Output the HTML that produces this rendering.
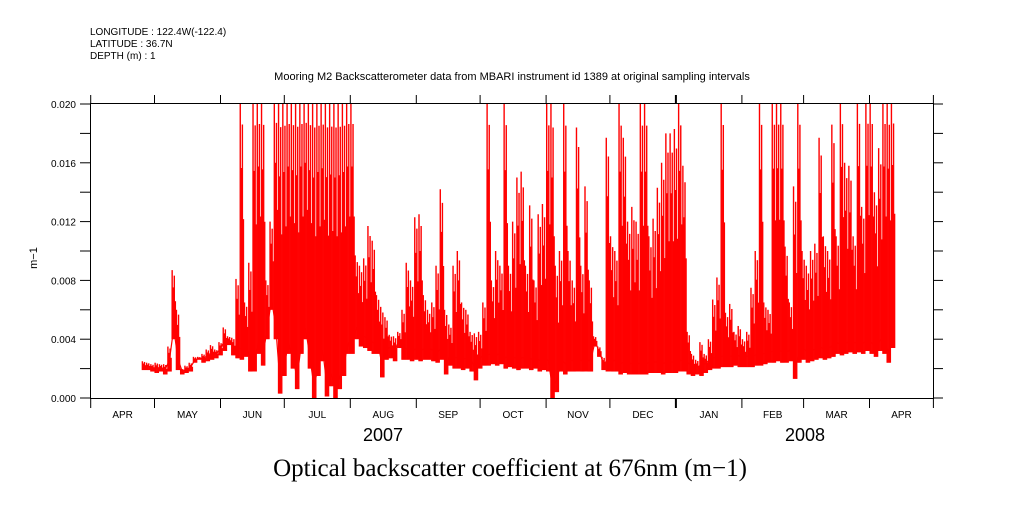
<!DOCTYPE html>
<html><head><meta charset="utf-8"><style>
body{margin:0;background:#fff;width:1009px;height:504px;overflow:hidden}
svg text{font-family:"Liberation Sans",sans-serif;fill:#000}
</style></head><body>
<svg id="chart" width="1009" height="504" xmlns="http://www.w3.org/2000/svg">
<g font-size="10">
<text x="90" y="35">LONGITUDE : 122.4W(-122.4)</text>
<text x="90" y="47">LATITUDE : 36.7N</text>
<text x="90" y="59">DEPTH (m) : 1</text>
</g>
<text x="512" y="80" font-size="11" text-anchor="middle">Mooring M2 Backscatterometer data from MBARI instrument id 1389 at original sampling intervals</text>
<text transform="translate(37,258) rotate(-90)" font-size="11" text-anchor="middle">m−1</text>
<text x="383" y="441" font-size="18" text-anchor="middle">2007</text>
<text x="805" y="441" font-size="18" text-anchor="middle">2008</text>
<text x="510" y="476" font-size="25" text-anchor="middle" style="font-family:'Liberation Serif',serif">Optical backscatter coefficient at 676nm (m−1)</text>
<g id="series"></g>
<g id="axes"></g>
</svg>
<script>
const startDay = 24; // days since 2007-04-01 of first bin
const binDays = 2;
const hiVals = [2.5,2.4,2.3,2.4,2.3,2.3,3.5,8.7,6.0,2.0,2.2,2.4,2.8,2.8,3.0,3.3,3.6,3.3,3.8,4.8,4.2,4.1,8.1,20,6.5,9.2,20,20,20,8,12,20,
20,20,20,20,20,20,20,20,20,20,20,20,20,20,20,20,20,
20,9.7,9.0,9.5,11.7,10.7,7.0,6.2,5.5,4.3,4.2,4.5,6,9.2,8,12.3,12.5,7,6,6.5,9,14.2,6,5,9,10,6.5,6,4.5,4.4,4.5,6.5,
20,8,10,9,20,9,12,15,15.4,9,13.1,8,12.5,13.2,20,20,9,10,20,10,8,18.4,9,14.4,8,4.2,3.5,2.8,17.7,11,10,20,17.7,12,13,12,20,20,11,12.2,14.3,16,18,18,18.3,20,15.8,
4.5,3.0,2.6,3.8,3.0,4.0,6.7,8.2,20,5.8,6.4,4.5,4.9,4.0,4.5,7.5,10,20,6.5,6,20,20,20,10.3,6.5,14.4,20,10,9,10,10.5,17.7,11,10,18.6,11,20,16,15.8,11,20,13,20,20,14,17,20,20,20];
const loVals = [1.9,1.9,1.8,1.7,1.8,1.6,1.8,4.0,1.9,1.6,1.7,1.8,2.4,2.6,2.4,2.5,2.6,2.7,2.9,3.2,3.6,2.9,2.7,2.6,2.8,1.8,1.8,3.0,2.2,4,6,4,
0.3,1.5,3,2,0.6,3,4,2,0,1.5,2.5,0.1,0.8,0,0.6,1.5,3,
3,4,3.5,3.4,3.2,3,3,1.4,2.6,2.7,2.5,3.4,2.6,2.6,2.5,2.6,2.5,2.6,2.6,2.5,2.4,2.6,1.6,2.2,2.0,2.0,1.9,2.0,1.8,1.2,2.0,2.2,
2.2,2.3,2.2,2.3,2.0,2.1,2.0,1.9,2.0,2.0,1.9,2.0,1.8,1.9,1.8,0,0.4,1.8,1.6,1.8,1.8,1.8,1.8,1.8,1.8,3.5,2.8,1.9,1.8,1.8,1.8,1.6,1.7,1.6,1.6,1.6,1.6,1.6,1.7,1.7,1.7,1.6,1.7,1.7,1.7,1.8,1.8,
1.6,1.5,1.6,1.5,1.7,1.9,2.0,2.0,2.1,2.1,2.1,2.2,2.1,2.1,2.1,2.1,2.2,2.2,2.3,2.4,2.4,2.5,2.4,2.4,2.5,1.3,2.4,2.6,2.4,2.5,2.6,2.7,2.6,2.7,2.8,3.0,2.9,3.0,3.1,3.0,3.1,3.0,3.2,3.0,2.8,3.2,3.0,2.4,3.4];
const yTicks = [0,0.004,0.008,0.012,0.016,0.020];
const yTickLabels = ["0.000","0.004","0.008","0.012","0.016","0.020"];
const monthDays = [0,30,61,91,122,153,183,214,244,275,306,335,366,396];
const monthLabels = ["APR","MAY","JUN","JUL","AUG","SEP","OCT","NOV","DEC","JAN","FEB","MAR","APR"];

const X0=90.7, PX_PER_DAY=2.128, Y0=398, Y1=104, VMAX=0.020;
function xs(d){return X0+d*PX_PER_DAY;}
function ys(v){return Y0-(v/VMAX)*(Y0-Y1);}
const NS="http://www.w3.org/2000/svg";
function mk(tag,attrs,parent){const e=document.createElementNS(NS,tag);for(const k in attrs)e.setAttribute(k,attrs[k]);parent.appendChild(e);return e;}
const series=document.getElementById('series');
const axes=document.getElementById('axes');
const bw=binDays*PX_PER_DAY;
for(let i=0;i<hiVals.length;i++){
  const lo=loVals[i]/1000, hi=hiVals[i]/1000;
  const x=xs(startDay+i*binDays);
  const fr=[1,0.75,0.92,0.55];
  for(let k=0;k<4;k++){
    const top=lo+(hi-lo)*fr[k];
    const l=mk('line',{x1:(x+0.6+k*bw/4).toFixed(2),x2:(x+0.6+k*bw/4).toFixed(2),y1:ys(lo).toFixed(2),y2:ys(top).toFixed(2),stroke:'#ff0000','stroke-width':1.4},series);
    
    
  }
}
let pts=[];
for(let i=0;i<loVals.length;i++){const lo=loVals[i]/1000,hi=hiVals[i]/1000;pts.push(xs(startDay+i*binDays+1).toFixed(1)+','+ys(lo+Math.min(hi-lo,0.0015)*0.5).toFixed(1));}
const pl=mk('polyline',{points:pts.join(' '),fill:'none',stroke:'#ff0000','stroke-width':1.2},series);



const frm=mk('rect',{x:90.5,y:103.5,width:843,height:295,fill:'none',stroke:'#000','stroke-width':1},axes);


for(let v=0;v<=0.0201;v+=0.002){
  const y=ys(v).toFixed(1);
  mk('line',{x1:80,x2:90,y1:y,y2:y,stroke:'#000'},axes);
  mk('line',{x1:933,x2:943,y1:y,y2:y,stroke:'#000'},axes);
}
for(let i=0;i<yTicks.length;i++){
  const t=mk('text',{x:76,y:(ys(yTicks[i])+4).toFixed(1),'font-size':10,'text-anchor':'end'},axes);
  t.textContent=yTickLabels[i];
  
  
}
for(let i=0;i<monthDays.length;i++){
  const x=xs(monthDays[i]).toFixed(1);
  mk('line',{x1:x,x2:x,y1:398,y2:408,stroke:'#000','stroke-width':(monthDays[i]===275?2:1)},axes);
  mk('line',{x1:x,x2:x,y1:95,y2:103,stroke:'#000','stroke-width':(monthDays[i]===275?2:1)},axes);
  if(i<monthLabels.length){
    const t=mk('text',{x:((xs(monthDays[i])+xs(monthDays[i+1]))/2).toFixed(1),y:418,'font-size':10,'text-anchor':'middle'},axes);
    t.textContent=monthLabels[i];
    
    
  }
}
</script>
</body></html>
